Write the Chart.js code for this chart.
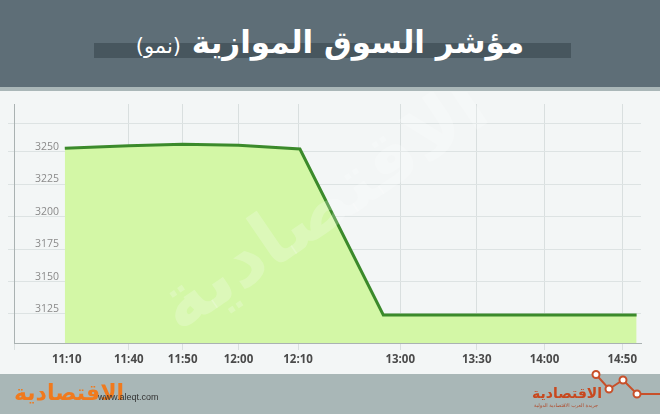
<!DOCTYPE html>
<html><head><meta charset="utf-8">
<script src="https://cdn.jsdelivr.net/npm/chart.js@4/dist/chart.umd.min.js"></script>
<style>
html,body{margin:0;padding:0;width:660px;height:414px;overflow:hidden;background:#f3f6f6;}
#header{position:absolute;left:0;top:0;width:660px;height:87px;background:#5e6e77;}
#stripe{position:absolute;left:0;top:87px;width:660px;height:4px;background:#aab7b8;}
#bar{position:absolute;left:94px;top:43px;width:477px;height:15px;background:#47565e;}
#title{position:absolute;left:0;top:20px;width:660px;text-align:center;direction:rtl;color:#fff;font-family:"DejaVu Sans";font-weight:bold;font-size:31px;line-height:44px;white-space:nowrap;}
#title span{font-size:21px;font-weight:normal;}
#wrap{position:absolute;left:0;top:92px;width:660px;height:282px;}
#footer{position:absolute;left:0;top:374px;width:660px;height:40px;background:#a9b7b7;}
#logoL{position:absolute;left:14px;top:378px;color:#f07a1e;font-family:"DejaVu Sans";font-weight:bold;font-size:22px;direction:rtl;line-height:30px;}
#url{position:absolute;left:98px;top:392px;color:#333;font-family:"Liberation Sans";font-size:9px;}
#logoR{position:absolute;left:532px;top:384px;color:#c8481e;font-family:"DejaVu Sans";font-weight:bold;font-size:14px;direction:rtl;line-height:18px;}
#logoRs{position:absolute;left:534px;top:402px;color:#b04a2a;font-family:"DejaVu Sans";font-size:5px;direction:rtl;}
svg{position:absolute;left:0;top:0;}
</style></head>
<body>
<div id="header"><div id="bar"></div><div id="title">مؤشر السوق الموازية <span>(نمو)</span></div></div>
<div id="stripe"></div>
<div id="wrap"><canvas id="c" width="660" height="282"></canvas></div>
<div id="footer"></div>
<svg width="660" height="414">
<defs><linearGradient id="g" x1="0" x2="1" y1="0" y2="0"><stop offset="0" stop-color="#c8502a" stop-opacity="0"/><stop offset="0.3" stop-color="#c8502a" stop-opacity="0.8"/><stop offset="1" stop-color="#c8502a"/></linearGradient></defs>
<polyline points="0,374.5 596,374.5" stroke="url(#g)" stroke-width="2" fill="none"/>
<polyline points="596,374.5 609,389 623,380 637,394 660,394" stroke="#c8502a" stroke-width="2" fill="none"/>
<circle cx="596" cy="374.5" r="3.5" fill="#fff" stroke="#c8502a" stroke-width="2"/>
<circle cx="609" cy="389" r="3.5" fill="#fff" stroke="#c8502a" stroke-width="2"/>
<circle cx="623" cy="380" r="3.5" fill="#fff" stroke="#c8502a" stroke-width="2"/>
<circle cx="637" cy="394" r="3.5" fill="#fff" stroke="#c8502a" stroke-width="2"/>
</svg>
<div id="logoL">الاقتصادية</div>
<div id="url">www.aleqt.com</div>
<div id="logoR">الاقتصادية</div>
<div id="logoRs">جريدة العرب الاقتصادية الدولية</div>
<script>
// x positions are slots along the (unevenly spaced) time axis, 0..100
const xTickLabels = ['11:10','11:40','11:50','12:00','12:10','13:00','13:30','14:00','14:50'];
const xTickSlots  = [8.4, 18.3, 26.9, 35.8, 45.3, 61.6, 73.8, 84.6, 97.0];
const yTicks = [3125, 3150, 3175, 3200, 3225, 3250];
const dataSlots  = [8.1, 18.3, 26.9, 35.8, 45.6, 58.9, 99.3];
const dataValues = [3252.8, 3254.8, 3255.9, 3255.2, 3252.3, 3124.2, 3124.2];

const watermark = {
  id:'wm',
  afterDatasetsDraw(chart){
    const c = chart.ctx; c.save();
    c.translate(325, 118); c.rotate(-0.6);
    c.fillStyle = 'rgba(255,255,255,0.22)';
    c.font = 'bold 76px "DejaVu Sans"';
    c.textAlign='center'; c.textBaseline='middle';
    c.direction='rtl';
    c.fillText('الاقتصادية', 0, 0);
    c.restore();
  }
};

new Chart(document.getElementById('c'), {
  type:'line',
  data:{
    datasets:[{
      data: dataSlots.map((x,i)=>({x:x, y:dataValues[i]})),
      borderColor:'#3b8a2b', borderWidth:3, backgroundColor:'#d3f7a6',
      fill:'start', pointRadius:0, tension:0
    }]
  },
  options:{
    responsive:false, animation:false,
    layout:{autoPadding:false, padding:{left:0,right:19,top:12,bottom:0}},
    plugins:{legend:{display:false}, tooltip:{enabled:false}},
    scales:{
      x:{
        type:'linear', min:0, max:100,
        afterBuildTicks(s){ s.ticks = [{value:0}].concat(xTickSlots.map(v=>({value:v}))); },
        afterFit(s){ s.height = 31; s.paddingLeft = 0; s.paddingRight = 0; s.paddingTop = 0; s.paddingBottom = 0; },
        ticks:{ autoSkip:false, maxRotation:0, padding:3, color:'#4a4a4a',
          font:{family:'"Open Sans"', weight:'bold', size:11.5},
          callback:(v,i)=> i===0 ? '' : xTickLabels[i-1] },
        grid:{ color:(ctx)=> ctx.index===1 ? 'rgba(0,0,0,0)' : '#d9dfdf', lineWidth:1, tickLength:7, drawTicks:true },
        border:{display:true, color:'#aab2b2', width:1}
      },
      y:{
        min:3102.6, max:3287,
        afterBuildTicks(s){ s.ticks = yTicks.map(v=>({value:v})).concat([{value:3271.6}]); },
        afterFit(s){ s.width = 14; s.paddingLeft = 0; s.paddingRight = 0; s.paddingTop = 0; s.paddingBottom = 0; },
        ticks:{ mirror:true, padding:21, labelOffset:-5, color:'#8a8a8a',
          font:{family:'"Open Sans"', size:10.5},
          callback:(v)=> (v%25===0 ? String(v) : '') },
        grid:{ color:'#dde3e3', lineWidth:1, tickLength:6, drawTicks:true },
        border:{display:true, color:'#aab2b2', width:1}
      }
    }
  },
  plugins:[watermark]
});
</script>
</body></html>
